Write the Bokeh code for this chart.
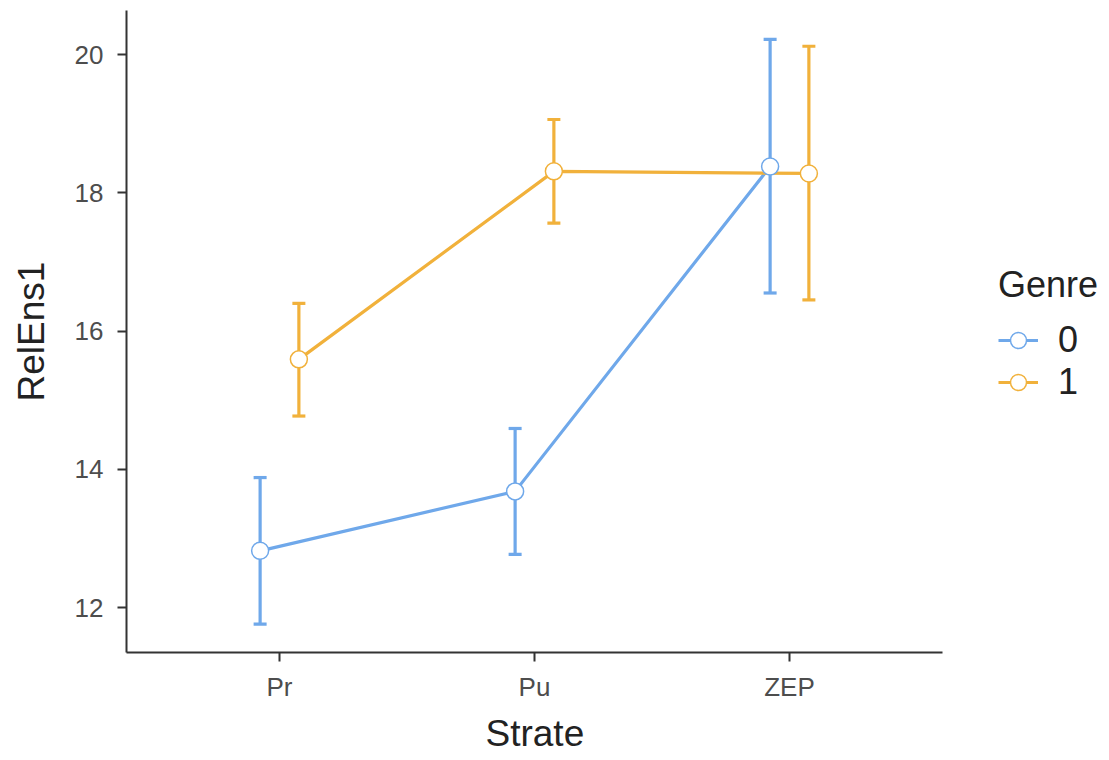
from bokeh.plotting import figure
from bokeh.models import (ColumnDataSource, Whisker, TeeHead, FixedTicker, Range1d,
                          Legend, LegendItem, Title)
from bokeh.transform import dodge
from bokeh.embed import file_html
from bokeh.resources import INLINE

# ---- data ----
strate = ["Pr", "Pu", "ZEP"]
genres = ["0", "1"]
mean_g0 = [12.82, 13.68, 18.38]
lower_g0 = [11.76, 12.77, 16.55]
upper_g0 = [13.88, 14.59, 20.22]
mean_g1 = [15.59, 18.31, 18.28]
lower_g1 = [14.77, 17.56, 16.45]
upper_g1 = [16.40, 19.06, 20.12]
y_ticks = [12, 14, 16, 18, 20]

colors = ["#6FA8EA", "#F1B13B"]
offsets = [-0.076, 0.076]

FONT = "Liberation Sans"

# frame: left 126, top 10, bottom 652; x axis drawn 0.4..3.6 (126..942),
# frame extends to the right edge so the legend can sit inside it
X0, X1 = 0.4, 3.6
px_per_unit = (942 - 126) / (X1 - X0)
x_end = X1 + (1109 - 942) / px_per_unit

p = figure(width=1109, height=760,
           x_range=Range1d(X0, x_end), y_range=Range1d(11.349, 20.637),
           output_backend="svg", toolbar_location=None,
           min_border_left=126, min_border_right=0,
           min_border_top=10, min_border_bottom=108)
p.grid.visible = False
p.outline_line_color = None
p.background_fill_color = "white"
p.border_fill_color = "white"

x_pos = list(range(1, len(strate) + 1))
series = [(mean_g0, lower_g0, upper_g0), (mean_g1, lower_g1, upper_g1)]

LW = 3.2
info = []
for k, (m, lo, hi) in enumerate(series):
    src = ColumnDataSource(dict(x=x_pos, mean=m, lower=lo, upper=hi))
    c = colors[k]
    xs = dodge("x", offsets[k])
    w = Whisker(source=src, base=xs, lower="lower", upper="upper",
                dimension="height", line_color=c, line_width=LW,
                upper_head=TeeHead(size=13, line_color=c, line_width=LW),
                lower_head=TeeHead(size=13, line_color=c, line_width=LW))
    p.add_layout(w)
    info.append((src, xs, c))

line_r = []
for src, xs, c in info:
    line_r.append(p.line(x=xs, y="mean", source=src, line_color=c, line_width=LW))

scat = []
for src, xs, c in info:
    scat.append(p.scatter(x=xs, y="mean", source=src, size=17, fill_color="white",
                          line_color=c, line_width=1.5))

# axes
for ax in (p.xaxis[0], p.yaxis[0]):
    ax.axis_line_color = "#333333"
    ax.axis_line_width = 2
    ax.major_tick_line_color = "#333333"
    ax.major_tick_line_width = 2
    ax.major_tick_out = 9
    ax.major_tick_in = 0
    ax.minor_tick_line_color = None
    ax.major_label_text_font = FONT
    ax.major_label_text_font_size = "26px"
    ax.major_label_text_color = "#4D4D4D"
    ax.axis_label_text_font = FONT
    ax.axis_label_text_font_size = "37px"
    ax.axis_label_text_font_style = "normal"
    ax.axis_label_text_color = "#222222"

p.xaxis.bounds = (X0, X1)
p.xaxis.ticker = FixedTicker(ticks=x_pos)
p.xaxis.major_label_overrides = {x: s for x, s in zip(x_pos, strate)}
p.xaxis.major_label_standoff = 10

# x axis title, centred under the drawn axis (not the wider frame)
xtitle = Title(text="Strate", align="left", offset=485 - 126,
               text_font=FONT, text_font_size="37px", text_font_style="normal",
               text_color="#222222", standoff=12)
p.add_layout(xtitle, "below")

p.yaxis.ticker = FixedTicker(ticks=y_ticks)
p.yaxis.axis_label = "RelEns1"
p.yaxis.major_label_standoff = 14
p.yaxis.axis_label_standoff = 20

items = [LegendItem(label=g, renderers=[line_r[k], scat[k]]) for k, g in enumerate(genres)]
legend = Legend(items=items, title="Genre", location=(872, 249),
                padding=0, margin=0, border_line_color=None,
                background_fill_alpha=0, glyph_width=40, glyph_height=40,
                label_standoff=20, spacing=0, title_standoff=13,
                label_text_font=FONT, label_text_font_size="36px",
                label_text_color="#222222",
                title_text_font=FONT, title_text_font_size="36px",
                title_text_font_style="normal", title_text_color="#222222")
p.add_layout(legend)

open("out.html", "w").write(file_html(p, INLINE))
